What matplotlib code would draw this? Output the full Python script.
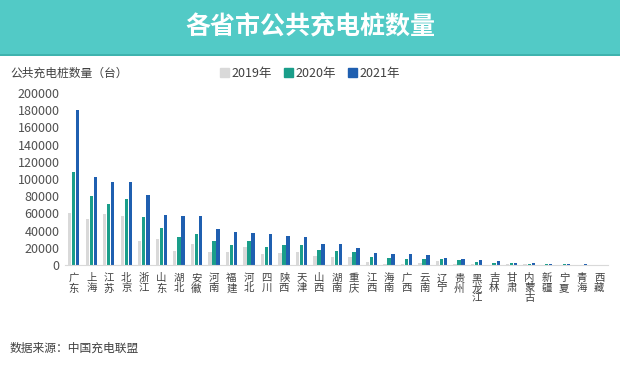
import matplotlib.pyplot as plt
import matplotlib.patches as mpatches
import numpy as np

plt.rcParams['font.family'] = ['Noto Sans CJK SC', 'DejaVu Sans']

provinces = ["广东", "上海", "江苏", "北京", "浙江", "山东", "湖北", "安徽", "河南", "福建",
             "河北", "四川", "陕西", "天津", "山西", "湖南", "重庆", "江西", "海南", "广西",
             "云南", "辽宁", "贵州", "黑龙江", "吉林", "甘肃", "内蒙古", "新疆", "宁夏", "青海", "西藏"]
y2019 = [61000, 53000, 59000, 57500, 27600, 30700, 16300, 24900, 14800, 15500,
         21000, 12800, 13600, 15500, 11000, 9000, 9700, 4000, 1500, 1500,
         2700, 4300, 1200, 800, 400, 1500, 800, 400, 400, 200, 100]
y2020 = [108700, 80000, 71000, 77000, 56000, 43500, 32000, 36500, 28000, 23700,
         28000, 21400, 23000, 23700, 17000, 16000, 15000, 9300, 7800, 6600,
         6600, 6600, 6200, 3500, 1900, 2300, 1500, 1200, 800, 400, 200]
y2021 = [180600, 102000, 96000, 96000, 81000, 58600, 57000, 57000, 42300, 38000,
         37700, 36500, 33400, 32600, 24000, 24000, 19400, 14400, 12400, 12800,
         11600, 8200, 7400, 5800, 4300, 2300, 2300, 1500, 1200, 800, 400]
years = ["2019年", "2020年", "2021年"]
colors = ["#d9d9d9", "#1a9e8a", "#1f5fb0"]

fig = plt.figure(figsize=(6.2, 3.67), dpi=100)
fig.patch.set_facecolor("white")

# title banner
fig.add_artist(mpatches.Rectangle((0, 1 - 55 / 367), 1, 55 / 367, transform=fig.transFigure,
                                  facecolor="#52cac6", edgecolor="none"))
fig.add_artist(mpatches.Rectangle((0, 1 - 56 / 367), 1, 2 / 367, transform=fig.transFigure,
                                  facecolor="#3fb3ae", edgecolor="none"))
fig.text(0.5, 1 - 27 / 367, "各省市公共充电桩数量", ha="center", va="center",
         color="white", fontsize=18, fontweight="bold")

ax = fig.add_axes([65 / 620, 102 / 367, 543 / 620, 172 / 367])
x = np.arange(len(provinces))
w = 0.19
for i, (vals, c) in enumerate(zip([y2019, y2020, y2021], colors)):
    ax.bar(x + (i - 1) * 0.23, vals, width=w, color=c, zorder=2)

ax.set_xlim(-0.5, len(provinces) - 0.5)
ax.set_ylim(0, 200000)
ax.set_yticks(range(0, 200001, 20000))
ax.tick_params(axis="y", length=0, labelsize=9, labelcolor="#505050", pad=4)
ax.tick_params(axis="x", length=0, pad=6)
ax.set_xticks(x)
ax.set_xticklabels(["\n".join(p) for p in provinces], fontsize=7.5, color="#404040",
                   linespacing=1.0, va="top")
for side in ("top", "right", "left"):
    ax.spines[side].set_visible(False)
ax.spines["bottom"].set_color("#d9d9d9")

fig.text(10 / 620, 1 - 73 / 367, "公共充电桩数量（台）", ha="left", va="center",
         fontsize=8.5, color="#404040")
handles = [mpatches.Patch(color=c, label=y) for c, y in zip(colors, years)]
fig.legend(handles=handles, loc="center", bbox_to_anchor=(0.5, 1 - 73 / 367), ncol=3,
           frameon=False, fontsize=9, handlelength=0.7, handleheight=0.7,
           handletextpad=0.2, columnspacing=1.0, labelcolor="#404040")

fig.text(10 / 620, 1 - 348 / 367, "数据来源：中国充电联盟", ha="left", va="center",
         fontsize=8.5, color="#404040")

fig.savefig("out.png", dpi=100)
